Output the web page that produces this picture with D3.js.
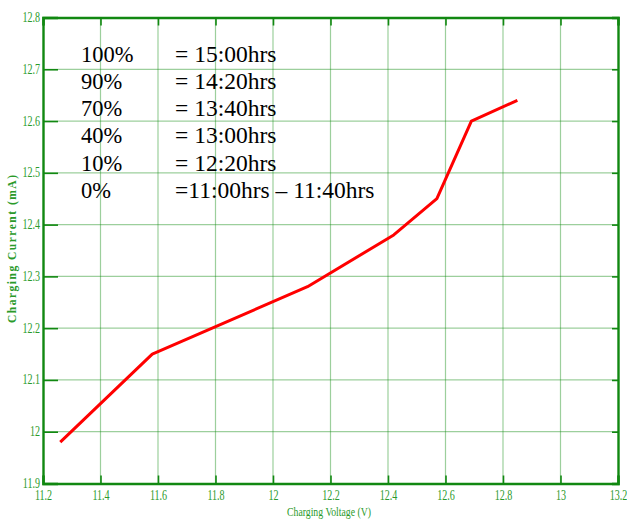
<!DOCTYPE html>
<html><head><meta charset="utf-8">
<script src="https://cdn.jsdelivr.net/npm/d3@7"></script>
<style>body{margin:0;background:#fff}svg{display:block}text{font-family:"Liberation Serif","DejaVu Serif",serif}</style>
</head><body>
<svg id="c" width="627" height="520"></svg>
<script>
const voltage = [11.26, 11.58, 12.12, 12.42, 12.57, 12.69, 12.85];
const current = [11.98, 12.15, 12.28, 12.38, 12.45, 12.60, 12.64];
const xTicks = [11.2, 11.4, 11.6, 11.8, 12, 12.2, 12.4, 12.6, 12.8, 13, 13.2];
const yTicks = [11.9, 12, 12.1, 12.2, 12.3, 12.4, 12.5, 12.6, 12.7, 12.8];
const legendPct = ["100%", "90%", "70%", "40%", "10%", "0%"];
const legendTime = ["= 15:00hrs", "= 14:20hrs", "= 13:40hrs", "= 13:00hrs", "= 12:20hrs", "=11:00hrs \u2013 11:40hrs"];

(function () {
const L = 43, R = 618, T = 17.5, B = 483.5;
const svg = d3.select("#c");
const x = d3.scaleLinear().domain([11.2, 13.2]).range([L, R]);
const y = d3.scaleLinear().domain([11.9, 12.8]).range([B, T]);
const axisCol = "#118811", labCol = "#2a9a2a", gridCol = "rgba(20,140,20,0.42)";
const serif = '"Liberation Serif", "DejaVu Serif", serif';

const g = svg.append("g");
g.selectAll(".vg").data(xTicks.slice(1, -1)).join("line")
  .attr("x1", d => x(d)).attr("x2", d => x(d)).attr("y1", T).attr("y2", B)
  .attr("stroke", gridCol).attr("stroke-width", 1.2);
g.selectAll(".hg").data(yTicks.slice(1, -1)).join("line")
  .attr("y1", d => y(d)).attr("y2", d => y(d)).attr("x1", L).attr("x2", R)
  .attr("stroke", gridCol).attr("stroke-width", 1.2);

const fmt = d => String(+d.toFixed(1));
const axB = svg.append("g").attr("transform", `translate(0,${B})`)
  .call(d3.axisBottom(x).tickValues(xTicks).tickSize(-8).tickFormat(fmt).tickPadding(0));
const axT = svg.append("g").attr("transform", `translate(0,${T})`)
  .call(d3.axisTop(x).tickValues(xTicks).tickSize(-8).tickFormat(""));
const axL = svg.append("g").attr("transform", `translate(${L},0)`)
  .call(d3.axisLeft(y).tickValues(yTicks).tickSize(-15).tickFormat(fmt));
const axR = svg.append("g").attr("transform", `translate(${R},0)`)
  .call(d3.axisRight(y).tickValues(yTicks).tickSize(-6).tickFormat(""));
[axB, axT, axL, axR].forEach(a => {
  a.attr("font-family", serif);
  a.selectAll(".domain").attr("stroke", axisCol).attr("stroke-width", 2.4);
  a.selectAll(".tick line").attr("stroke", axisCol).attr("stroke-width", 1.6);
});
axB.selectAll(".tick text").each(function () {
  d3.select(this).attr("y", null).attr("dy", null)
    .attr("transform", "translate(0,16.5) scale(0.72,1)")
    .attr("fill", labCol).style("font-family", serif)
    .attr("font-size", 14).attr("text-anchor", "middle");
});
axL.selectAll(".tick text").each(function () {
  d3.select(this).attr("x", null).attr("dy", null)
    .attr("transform", "translate(-3,4) scale(0.72,1)")
    .attr("fill", labCol).style("font-family", serif)
    .attr("font-size", 14).attr("text-anchor", "end");
});

const line = d3.line().x((d, i) => x(voltage[i])).y(d => y(d));
svg.append("path").datum(current).attr("d", line)
  .attr("fill", "none").attr("stroke", "#ff0000").attr("stroke-width", 3)
  .attr("stroke-linejoin", "round");

const lg = svg.append("g").style("font-family", serif).attr("font-size", 22.5).attr("fill", "#000");
lg.selectAll(".p").data(legendPct).join("text")
  .attr("x", 81).attr("y", (d, i) => 61.5 + i * 27.3).style("font-family", serif).text(d => d);
lg.selectAll(".t").data(legendTime).join("text")
  .attr("x", 175).attr("y", (d, i) => 61.5 + i * 27.3).style("font-family", serif)
  .attr("font-size", 23.5).text(d => d);

svg.append("text").text("Charging Voltage (V)")
  .attr("x", 287).attr("y", 516).attr("textLength", 84).attr("lengthAdjust", "spacingAndGlyphs")
  .style("font-family", serif).attr("font-size", 13).attr("fill", labCol);
svg.append("text").text("Charging Current (mA)")
  .attr("transform", "translate(16,323) rotate(-90)")
  .attr("textLength", 148).attr("lengthAdjust", "spacing")
  .style("font-family", serif).attr("font-size", 11.5).attr("font-weight", "bold").attr("fill", labCol);
})();
</script>
</body></html>
